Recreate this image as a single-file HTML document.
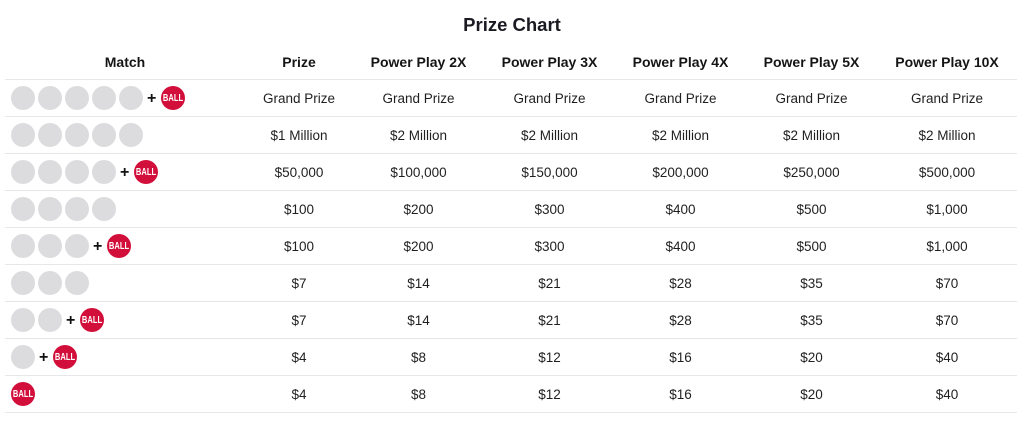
<!DOCTYPE html>
<html><head><meta charset="utf-8"><style>
*{margin:0;padding:0;box-sizing:border-box}
html,body{width:1024px;height:424px;background:#fff;overflow:hidden;font-family:"Liberation Sans",sans-serif;color:#222}
i,b{font-style:normal}
.title{position:absolute;left:0;width:1024px;top:14px;text-align:center;font-weight:bold;font-size:18.5px;line-height:22px;color:#1a1a22}
.row{position:absolute;left:5px;width:1012px;display:flex;align-items:center;border-bottom:1px solid #e7e7e9}
.hdr{top:44px;height:36px;font-weight:bold;font-size:14px;color:#151515}
.body{height:37px;font-size:13.5px;color:#1f1f1f}
.c{text-align:center;flex:none;white-space:nowrap}
.c0{width:240px}.c1{width:108px}.c2,.c3,.c4,.c5{width:131px}.c6{width:140px}
.m{display:flex;align-items:center;padding-left:6px;text-align:left}
.b{width:24px;height:24px;border-radius:50%;background:#dcdcde;margin-right:3px;flex:none}
.p{font-weight:bold;font-size:16px;color:#111;margin:0 5px 0 1px;line-height:16px;position:relative;top:1px}
.r{width:24px;height:24px;border-radius:50%;background:#d20f3a;flex:none;display:flex;align-items:center;justify-content:center;overflow:hidden}
.r span{color:#fff;font-weight:bold;font-style:normal;font-size:10.5px;display:inline-block;transform:scaleX(0.72);line-height:10px}
</style></head><body>
<div class="title">Prize Chart</div>
<div class="row hdr"><div class="c c0">Match</div><div class="c c1">Prize</div><div class="c c2">Power Play 2X</div><div class="c c3">Power Play 3X</div><div class="c c4">Power Play 4X</div><div class="c c5">Power Play 5X</div><div class="c c6">Power Play 10X</div></div>

<div class="row body" style="top:80px"><div class="c c0 m"><i class="b"></i><i class="b"></i><i class="b"></i><i class="b"></i><i class="b"></i><b class="p">+</b><i class="r"><span>BALL</span></i></div><div class="c c1">Grand Prize</div><div class="c c2">Grand Prize</div><div class="c c3">Grand Prize</div><div class="c c4">Grand Prize</div><div class="c c5">Grand Prize</div><div class="c c6">Grand Prize</div></div>

<div class="row body" style="top:117px"><div class="c c0 m"><i class="b"></i><i class="b"></i><i class="b"></i><i class="b"></i><i class="b"></i></div><div class="c c1">$1 Million</div><div class="c c2">$2 Million</div><div class="c c3">$2 Million</div><div class="c c4">$2 Million</div><div class="c c5">$2 Million</div><div class="c c6">$2 Million</div></div>

<div class="row body" style="top:154px"><div class="c c0 m"><i class="b"></i><i class="b"></i><i class="b"></i><i class="b"></i><b class="p">+</b><i class="r"><span>BALL</span></i></div><div class="c c1">$50,000</div><div class="c c2">$100,000</div><div class="c c3">$150,000</div><div class="c c4">$200,000</div><div class="c c5">$250,000</div><div class="c c6">$500,000</div></div>

<div class="row body" style="top:191px"><div class="c c0 m"><i class="b"></i><i class="b"></i><i class="b"></i><i class="b"></i></div><div class="c c1">$100</div><div class="c c2">$200</div><div class="c c3">$300</div><div class="c c4">$400</div><div class="c c5">$500</div><div class="c c6">$1,000</div></div>

<div class="row body" style="top:228px"><div class="c c0 m"><i class="b"></i><i class="b"></i><i class="b"></i><b class="p">+</b><i class="r"><span>BALL</span></i></div><div class="c c1">$100</div><div class="c c2">$200</div><div class="c c3">$300</div><div class="c c4">$400</div><div class="c c5">$500</div><div class="c c6">$1,000</div></div>

<div class="row body" style="top:265px"><div class="c c0 m"><i class="b"></i><i class="b"></i><i class="b"></i></div><div class="c c1">$7</div><div class="c c2">$14</div><div class="c c3">$21</div><div class="c c4">$28</div><div class="c c5">$35</div><div class="c c6">$70</div></div>

<div class="row body" style="top:302px"><div class="c c0 m"><i class="b"></i><i class="b"></i><b class="p">+</b><i class="r"><span>BALL</span></i></div><div class="c c1">$7</div><div class="c c2">$14</div><div class="c c3">$21</div><div class="c c4">$28</div><div class="c c5">$35</div><div class="c c6">$70</div></div>

<div class="row body" style="top:339px"><div class="c c0 m"><i class="b"></i><b class="p">+</b><i class="r"><span>BALL</span></i></div><div class="c c1">$4</div><div class="c c2">$8</div><div class="c c3">$12</div><div class="c c4">$16</div><div class="c c5">$20</div><div class="c c6">$40</div></div>

<div class="row body" style="top:376px"><div class="c c0 m"><i class="r"><span>BALL</span></i></div><div class="c c1">$4</div><div class="c c2">$8</div><div class="c c3">$12</div><div class="c c4">$16</div><div class="c c5">$20</div><div class="c c6">$40</div></div>
</body></html>
